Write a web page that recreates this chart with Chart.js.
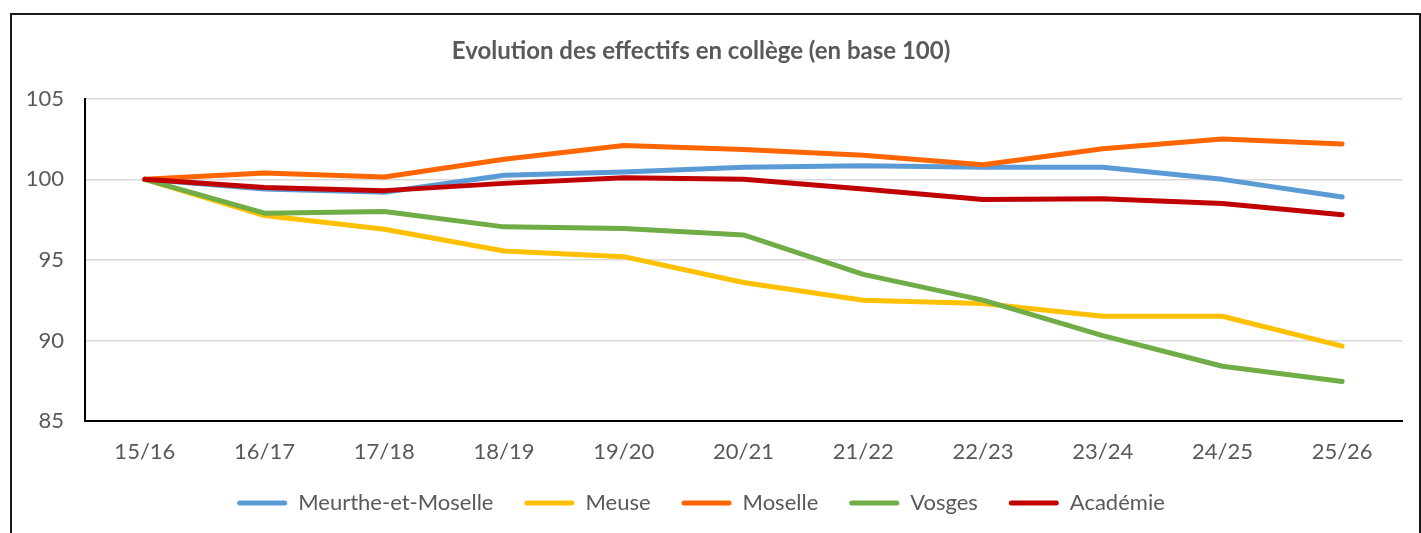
<!DOCTYPE html>
<html>
<head>
<meta charset="utf-8">
<script src="https://cdn.jsdelivr.net/npm/chart.js"></script>
<style>
  html, body { margin: 0; padding: 0; background: #fff; }
  #wrap { position: absolute; left: 0; top: 0; width: 1421px; height: 533px; }
  #frame { position: absolute; left: 10px; top: 13px; width: 1407px; height: 540px;
           border: 2px solid #1a1a1a; border-bottom: none; pointer-events: none; }
</style>
</head>
<body>
<div id="wrap"><canvas id="chart"></canvas></div>
<div id="frame"></div>
<script>
const labels = ["15/16", "16/17", "17/18", "18/19", "19/20", "20/21", "21/22", "22/23", "23/24", "24/25", "25/26"];
const meurthe = [100, 99.4, 99.2, 100.25, 100.45, 100.75, 100.85, 100.75, 100.75, 100.0, 98.9];
const meuse = [100, 97.75, 96.9, 95.55, 95.2, 93.6, 92.5, 92.3, 91.5, 91.5, 89.65];
const moselle = [100, 100.4, 100.15, 101.25, 102.1, 101.85, 101.5, 100.9, 101.9, 102.5, 102.2];
const vosges = [100, 97.9, 98.0, 97.05, 96.95, 96.55, 94.1, 92.5, 90.3, 88.4, 87.45];
const academie = [100, 99.5, 99.3, 99.75, 100.1, 100.0, 99.4, 98.75, 98.8, 98.5, 97.8];

const textColor = "#595959";
const fontFamily = "Lato, 'Open Sans', sans-serif";

const makeSet = (label, data, color, order) => ({
  label,
  data,
  borderColor: color,
  backgroundColor: color,
  borderWidth: 5,
  borderCapStyle: "round",
  borderJoinStyle: "round",
  pointRadius: 0,
  tension: 0,
  order,
});

const datasets = [
  makeSet("Meurthe-et-Moselle", meurthe, "#5B9BD5", 5),
  makeSet("Meuse", meuse, "#FFC000", 4),
  makeSet("Moselle", moselle, "#FF6600", 3),
  makeSet("Vosges", vosges, "#70AD47", 2),
  makeSet("Académie", academie, "#C00000", 1),
];

const config = {
  type: "line",
  data: { labels, datasets },
  options: {
    responsive: true,
    maintainAspectRatio: false,
    animation: false,
    layout: { padding: { left: 0, right: 19, top: 0, bottom: 9 } },
    plugins: {
      tooltip: { enabled: false },
      title: {
        display: true,
        text: "Evolution des effectifs en collège (en base 100)",
        color: textColor,
        font: { family: fontFamily, size: 24, weight: "bold" },
        padding: { top: 37, bottom: 33 },
      },
      legend: {
        position: "bottom",
        labels: {
          color: textColor,
          font: { family: fontFamily, size: 22 },
          boxWidth: 50,
          boxHeight: 5,
          padding: 31,
          sort: (a, b) => a.datasetIndex - b.datasetIndex,
          generateLabels: (chart) =>
            chart.data.datasets.map((ds, i) => ({
              text: ds.label,
              fillStyle: ds.borderColor,
              strokeStyle: ds.borderColor,
              lineWidth: 0,
              borderRadius: 2.5,
              fontColor: textColor,
              datasetIndex: i,
              hidden: false,
            })),
        },
      },
    },
    scales: {
      x: {
        offset: true,
        grid: { display: false, drawTicks: false },
        border: { display: true, color: "#000", width: 2 },
        ticks: { color: textColor, font: { family: fontFamily, size: 22 }, padding: 18, maxRotation: 0 },
        afterFit: (scale) => {
          scale.height = 40;
          // let the tick labels run below the (short) axis box
          scale._computeLabelArea = () => undefined;
        },
      },
      y: {
        min: 85,
        max: 105,
        ticks: { stepSize: 5, color: textColor, font: { family: fontFamily, size: 22 }, padding: 21 },
        grid: { color: "#d9d9d9", lineWidth: 1.5, drawTicks: false },
        border: { display: true, color: "#000", width: 2 },
        afterFit: (scale) => { scale.width = 85; },
      },
    },
  },
};

new Chart(document.getElementById("chart"), config);
</script>
</body>
</html>
